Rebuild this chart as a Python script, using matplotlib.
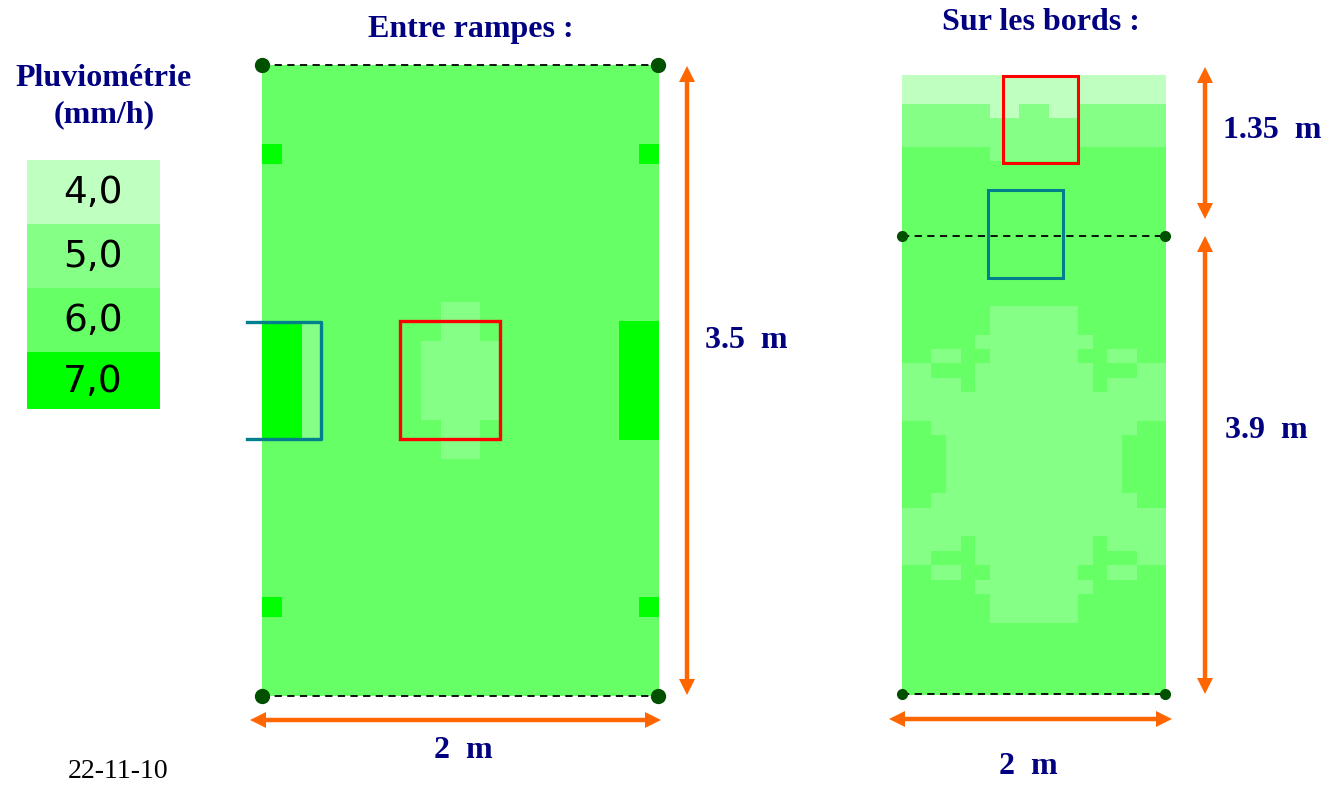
import numpy as np
import matplotlib
matplotlib.use("Agg")
import matplotlib.pyplot as plt
from matplotlib.colors import ListedColormap
from matplotlib.patches import Rectangle, Polygon

# pluviometrie levels (mm/h) and their colours
levels = [4.0, 5.0, 6.0, 7.0]
level_labels = ["4,0", "5,0", "6,0", "7,0"]
level_colors = ["#bfffbf", "#86ff86", "#66ff66", "#00ff00"]

# "Entre rampes" grid, 20 x 32 cells, one digit per cell (4 -> 4,0 mm/h ...)
row_base = "66666666666666666666"
row_corner = "76666666666666666667"
row_mid_a = "66666666655666666666"
row_mid_b = "77566666655666666677"
row_mid_c = "77566666555566666677"
entre_rampes = ([row_base] * 4 + [row_corner] + [row_base] * 7
                + [row_mid_a, row_mid_b] + [row_mid_c] * 4 + [row_mid_b, row_mid_a]
                + [row_base] * 7 + [row_corner] + [row_base] * 4)

# "Sur les bords" grid, 18 x 43 cells
sur_les_bords = [
    "444444444444444444",
    "444444444444444444",
    "555555445544555555",
    "555555555555555555",
    "555555555555555555",
    "666666555555666666",
] + ["666666666666666666"] * 10 + [
    "666666555555666666",
    "666666555555666666",
    "666665555555566666",
    "665566555555665566",
    "556665555555566655",
    "555565555555565555",
    "555555555555555555",
    "555555555555555555",
    "665555555555555566",
    "666555555555555666",
    "666555555555555666",
    "666555555555555666",
    "666555555555555666",
    "665555555555555566",
    "555555555555555555",
    "555555555555555555",
    "555565555555565555",
    "556665555555566655",
    "665566555555665566",
    "666665555555566666",
    "666666555555666666",
    "666666555555666666",
] + ["666666666666666666"] * 5

dim_labels = ["3.5  m", "1.35  m", "3.9  m", "2  m", "2  m"]
titles = ["Entre rampes :", "Sur les bords :"]
date_label = "22-11-10"


def to_array(rows):
    return np.array([[float(c) for c in r] for r in rows])


navy = "#000080"
orange = "#ff6600"
dark_green = "#005000"
teal = "#007f8c"
serif = ["Liberation Serif", "DejaVu Serif"]

cmap = ListedColormap(level_colors)

fig = plt.figure(figsize=(13.37, 7.87), dpi=100)
ax = fig.add_axes([0, 0, 1, 1])
ax.set_xlim(0, 1337)
ax.set_ylim(787, 0)
ax.axis("off")

# heat maps
ax.imshow(to_array(entre_rampes), cmap=cmap, vmin=3.5, vmax=7.5,
          interpolation="nearest", aspect="auto",
          extent=(261.7, 657.7, 696, 65))
ax.imshow(to_array(sur_les_bords), cmap=cmap, vmin=3.5, vmax=7.5,
          interpolation="nearest", aspect="auto",
          extent=(901.7, 1165.7, 695, 75.7))

# dashed limits and corner points
for y, x0, x1 in [(65, 262, 662), (696, 262, 662), (235.5, 902, 1170), (694, 902, 1170)]:
    ax.plot([x0, x1], [y, y], color="black", lw=1.3, ls=(0, (4, 3)), zorder=3)
for xs, y in [((262, 658), 65), ((262, 658), 696)]:
    ax.plot(xs, [y, y], ls="none", marker="o", ms=10, color=dark_green, zorder=4)
for xs, y in [((902, 1165), 235.5), ((902, 1165), 694)]:
    ax.plot(xs, [y, y], ls="none", marker="o", ms=7, color=dark_green, zorder=4)

# sampling boxes
ax.add_patch(Rectangle((399.5, 320.7), 100, 118.5, fill=False, ec="red", lw=2.4, zorder=5))
ax.plot([247, 321, 321, 247], [321.5, 321.5, 439, 439], color=teal, lw=2.4, zorder=5)
ax.add_patch(Rectangle((1002.7, 75.7), 75, 87, fill=False, ec="red", lw=2.2, zorder=5))
ax.add_patch(Rectangle((987.7, 190), 75, 88.3, fill=False, ec=teal, lw=2.2, zorder=5))


# dimension arrows with filled heads
def double_arrow(p0, p1, head=16.0, half=8.0):
    p0, p1 = np.array(p0, float), np.array(p1, float)
    d = (p1 - p0) / np.hypot(*(p1 - p0))
    n = np.array([-d[1], d[0]])
    a, b = p0 + d * (head - 1), p1 - d * (head - 1)
    ax.plot([a[0], b[0]], [a[1], b[1]], color=orange, lw=3.2, solid_capstyle="butt", zorder=6)
    for tip, back in [(p0, p0 + d * head), (p1, p1 - d * head)]:
        ax.add_patch(Polygon([tip, back + n * half, back - n * half], closed=True,
                             color=orange, lw=0, zorder=6))


for p0, p1 in [((687, 66), (687, 695)),
               ((250, 720), (661, 720)),
               ((1205, 67), (1205, 219)),
               ((1205, 236), (1205, 694)),
               ((889, 719), (1172, 719))]:
    double_arrow(p0, p1)

txt = dict(family=serif, weight="bold", color=navy, fontsize=23,
           ha="center", va="center")
ax.text(471, 29, titles[0], **txt)
ax.text(1041, 22, titles[1], **txt)
ax.text(104, 78, "Pluviométrie", **txt)
ax.text(104, 115, "(mm/h)", **txt)
ax.text(746, 341, dim_labels[0], **txt)
ax.text(1272, 131, dim_labels[1], **txt)
ax.text(1266, 430, dim_labels[2], **txt)
ax.text(463, 750, dim_labels[3], **txt)
ax.text(1028, 767, dim_labels[4], **txt)
ax.text(118, 772, date_label, family=serif, color="black", fontsize=20,
        ha="center", va="center")

# legend
legend_edges = [160, 224, 288, 352, 409]
for i, (lab, col) in enumerate(zip(level_labels, level_colors)):
    y0, y1 = legend_edges[i], legend_edges[i + 1]
    ax.add_patch(Rectangle((27, y0), 133, y1 - y0, color=col, lw=0))
    ax.text(93, (y0 + y1) / 2 + 1, lab, family="DejaVu Sans", fontsize=27,
            color="black", ha="center", va="center")

fig.savefig("out.png", dpi=100)
